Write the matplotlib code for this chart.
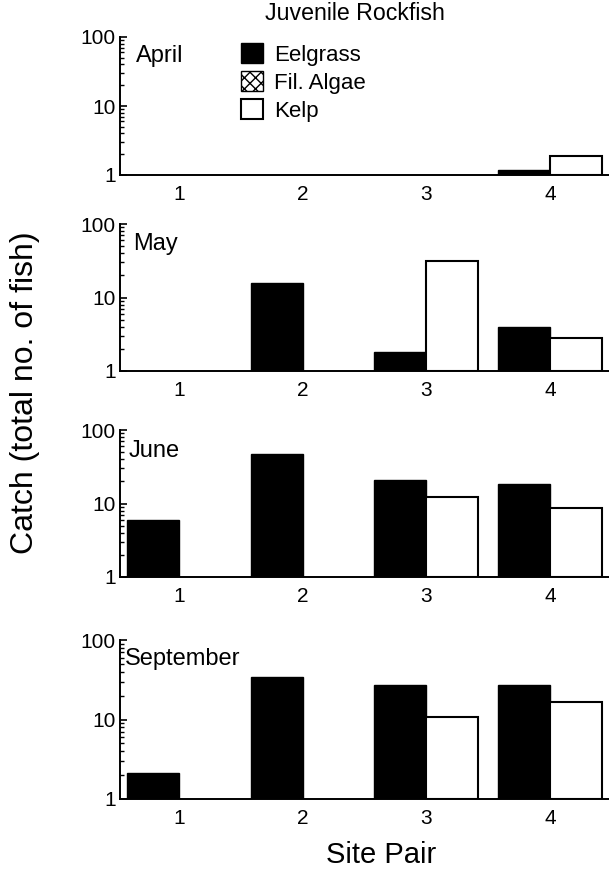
import numpy as np
from matplotlib import pyplot as plt
from matplotlib.patches import Patch

plt.rcParams["font.family"] = ["Liberation Sans", "DejaVu Sans"]

sites = [1, 2, 3, 4]
months = ["April", "May", "June", "September"]

# catch per site pair (0 = none caught)
eelgrass = {
    "April": [0, 0, 0, 1.17],
    "May": [0, 15.6, 1.8, 3.95],
    "June": [6.0, 46.5, 20.8, 18.3],
    "September": [2.15, 34.5, 27.0, 27.0],
}
fil_algae = {
    "April": [0, 0, 0, 0],
    "May": [0, 0, 0, 0],
    "June": [0, 0, 0, 0],
    "September": [0, 0, 0, 0],
}
kelp = {
    "April": [0, 0, 0, 1.9],
    "May": [0, 0, 31.0, 2.8],
    "June": [0, 0, 12.3, 8.7],
    "September": [0, 0, 10.7, 16.7],
}

W, H = 609, 869
fig = plt.figure(figsize=(W / 100, H / 100), dpi=100)

# (top px, bottom px) of each panel
panel_px = [(37, 175), (224, 371), (430, 577), (640, 799)]
label_px = [(136, 56), (133, 244), (129, 451), (125, 659)]
bw = 0.42


def draw_bars(ax, x, vals, offset, **kw):
    vals = np.asarray(vals, dtype=float)
    m = vals > 0
    ax.bar(x[m] + offset, vals[m] - 1, bottom=1, width=bw, align="edge", **kw)


axes = []
for i, month in enumerate(months):
    top, bot = panel_px[i]
    ax = fig.add_axes([120 / W, 1 - bot / H, 489 / W, (bot - top) / H])
    x = np.array(sites, dtype=float)
    draw_bars(ax, x, eelgrass[month], -bw, color="black", edgecolor="black", linewidth=1)
    draw_bars(ax, x, fil_algae[month], -bw / 2, facecolor="white", edgecolor="black",
              hatch="xxx", linewidth=1)
    draw_bars(ax, x, kelp[month], 0, facecolor="white", edgecolor="black", linewidth=1.5)

    ax.set_yscale("log")
    ax.set_ylim(1, 100)
    ax.set_xlim(0.523, 4.477)
    ax.set_xticks(sites)
    ax.set_xticklabels([str(s) for s in sites])
    ax.set_yticks([1, 10, 100])
    ax.set_yticklabels(["1", "10", "100"])
    ax.tick_params(axis="x", length=0, pad=7, labelsize=15)
    ax.tick_params(axis="y", which="major", direction="in", length=5, width=1.2,
                   pad=3, labelsize=15)
    ax.tick_params(axis="y", which="minor", direction="in", length=3, width=1)
    for s in ["top", "right"]:
        ax.spines[s].set_visible(False)
    for s in ["left", "bottom"]:
        ax.spines[s].set_linewidth(1.4)

    lx, ly = label_px[i]
    fig.text(lx / W, 1 - ly / H, month, fontsize=17, va="center", ha="left")
    axes.append(ax)

handles = [
    Patch(facecolor="black", edgecolor="black"),
    Patch(facecolor="white", edgecolor="black", hatch="xxx"),
    Patch(facecolor="white", edgecolor="black", linewidth=1.5),
]
fig.legend(handles, ["Eelgrass", "Fil. Algae", "Kelp"], loc="upper left",
           bbox_to_anchor=(241 / W, 1 - 43 / H), frameon=False, fontsize=16,
           handlelength=1.0, handleheight=1.0, handletextpad=0.5,
           labelspacing=0.25, borderpad=0, borderaxespad=0)

fig.text(355 / W, 1 - 14 / H, "Juvenile Rockfish", fontsize=16.7, ha="center", va="center")
fig.text(25 / W, 1 - 393 / H, "Catch (total no. of fish)", fontsize=23,
         rotation=90, ha="center", va="center")
fig.text(381 / W, 1 - 855 / H, "Site Pair", fontsize=21, ha="center", va="center")

plt.savefig("out.png", dpi=100)
